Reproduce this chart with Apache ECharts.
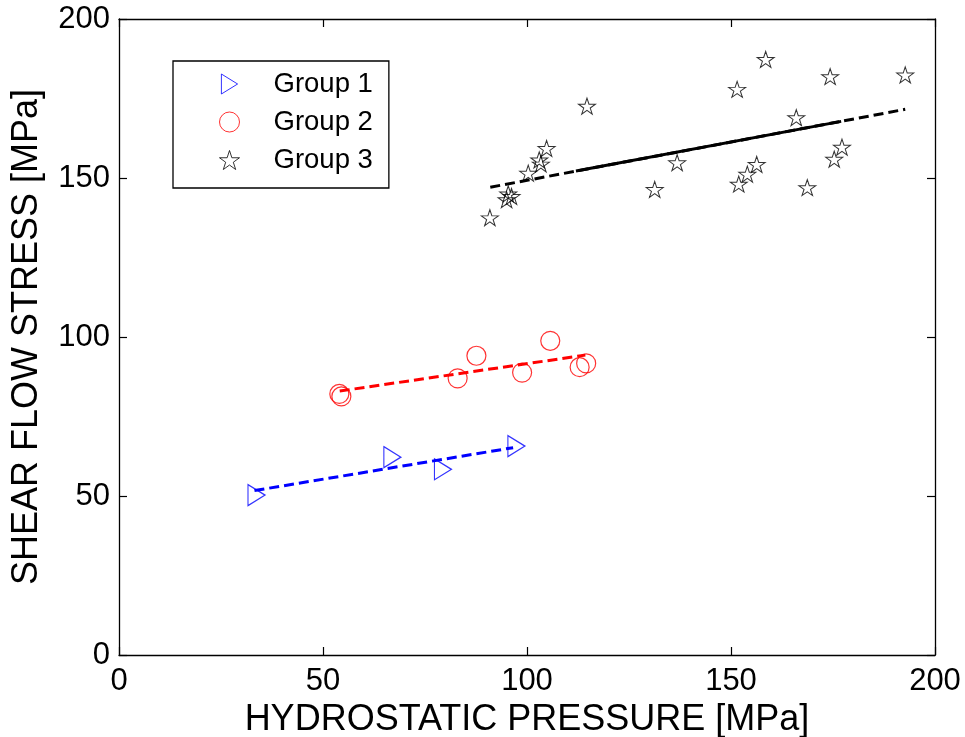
<!DOCTYPE html>
<html>
<head>
<meta charset="utf-8">
<script src="https://cdn.jsdelivr.net/npm/echarts@6/dist/echarts.min.js"></script>
<style>
html,body{margin:0;padding:0;background:#fff;}
#chart{width:965px;height:737px;}
</style>
</head>
<body>
<div id="chart"></div>
<script>
// ---- data ----
const group1X = [33.7, 67.0, 79.4, 97.4];
const group1Y = [50.3, 62.2, 58.4, 65.7];

const group2X = [54.0, 54.5, 83.0, 87.6, 98.8, 105.7, 112.9, 114.5];
const group2Y = [82.1, 81.3, 87.0, 94.1, 88.8, 98.8, 90.5, 91.7];

const group3X = [90.9, 95.0, 95.4, 96.2, 100.3, 103.0, 103.4, 104.8, 114.7, 131.3, 136.8,
                 151.5, 158.5, 151.9, 154.0, 156.3, 166.0, 168.7, 174.3, 175.3, 177.2, 192.7];
const group3Y = [137.5, 143.2, 145.0, 144.2, 151.5, 155.7, 154.4, 159.3, 172.6, 146.4, 154.8,
                 177.9, 187.3, 148.1, 151.2, 154.3, 169.0, 147.0, 181.9, 155.9, 159.7, 182.4];

const fit1X = [33.2, 96.6];  const fit1Y = [51.7, 65.2];
const fit2X = [54.1, 114.3]; const fit2Y = [83.0, 94.3];
const fit3X = [91.0, 192.7]; const fit3Y = [147.1, 171.6];
const fit3bX = [112.0, 177.0]; const fit3bY = [152.2, 167.8];

const xTicks = [0, 50, 100, 150, 200];
const yTicks = [0, 50, 100, 150, 200];
const seriesNames = ['Group 1', 'Group 2', 'Group 3'];

const xTitle = 'HYDROSTATIC PRESSURE [MPa]';
const yTitle = 'SHEAR FLOW STRESS [MPa]';

// ---- helpers ----
const zip = (xs, ys) => xs.map((x, i) => [x, ys[i]]);
const FONT = 'Liberation Sans, Arial, sans-serif';
const triPath = 'path://M0,0 L17,10.5 L0,21 Z';
const starPath = 'path://M50,0 L61.23,34.55 L97.55,34.55 L68.17,55.9 L79.39,90.45 L50,69.1 L20.61,90.45 L31.83,55.9 L2.45,34.55 L38.77,34.55 Z';

const axisCommon = {
  type: 'value', min: xTicks[0], max: xTicks[xTicks.length - 1], interval: 50,
  axisLine: { show: true, onZero: false, lineStyle: { color: '#000', width: 1.3 } },
  axisTick: { show: true, inside: true, length: 8, lineStyle: { color: '#000', width: 1.2 } },
  splitLine: { show: false }
};

const chart = echarts.init(document.getElementById('chart'), null, { renderer: 'canvas' });
chart.setOption({
  backgroundColor: '#fff',
  animation: false,
  grid: { left: 119, right: 30, top: 19, bottom: 82, containLabel: false, outerBoundsMode: 'none' },
  legend: {
    orient: 'vertical', left: 173, top: 61,
    data: seriesNames,
    itemWidth: 20, itemHeight: 20, itemGap: 10,
    padding: [9, 16, 14, 46],
    borderColor: '#000', borderWidth: 1.3, backgroundColor: '#fff',
    itemStyle: { borderWidth: 1 },
    textStyle: { fontFamily: FONT, fontSize: 27.5, color: '#000', padding: [0, 0, 0, 29] }
  },
  xAxis: [
    Object.assign({}, axisCommon, {
      position: 'bottom',
      axisLabel: { show: true, fontFamily: FONT, fontSize: 31, color: '#000', margin: 11 },
      name: xTitle, nameLocation: 'middle', nameGap: 43,
      nameTextStyle: { fontFamily: FONT, fontSize: 36, color: '#000' }
    }),
    Object.assign({}, axisCommon, { position: 'top', axisLabel: { show: false } })
  ],
  yAxis: [
    Object.assign({}, axisCommon, {
      min: yTicks[0], max: yTicks[yTicks.length - 1],
      position: 'left',
      axisLabel: { show: true, fontFamily: FONT, fontSize: 31, color: '#000', margin: 9 },
      name: yTitle, nameLocation: 'middle', nameGap: 74, nameRotate: 90,
      nameTextStyle: { fontFamily: FONT, fontSize: 36, color: '#000' }
    }),
    Object.assign({}, axisCommon, {
      min: yTicks[0], max: yTicks[yTicks.length - 1],
      position: 'right', axisLabel: { show: false }
    })
  ],
  series: [
    {
      name: 'fit1', type: 'line', data: zip(fit1X, fit1Y), symbol: 'none', silent: true, z: 3,
      lineStyle: { color: '#0000ff', width: 3, type: [10, 5] }
    },
    {
      name: 'fit2', type: 'line', data: zip(fit2X, fit2Y), symbol: 'none', silent: true, z: 3,
      lineStyle: { color: '#ff0000', width: 3, type: [10, 5] }
    },
    {
      name: 'fit3', type: 'line', data: zip(fit3X, fit3Y), symbol: 'none', silent: true, z: 3,
      lineStyle: { color: '#000', width: 3, type: [10, 5] }
    },
    {
      name: 'fit3b', type: 'line', data: zip(fit3bX, fit3bY), symbol: 'none', silent: true, z: 3,
      lineStyle: { color: '#000', width: 3, type: 'solid' }
    },
    {
      name: seriesNames[0], type: 'scatter', data: zip(group1X, group1Y),
      symbol: triPath, symbolSize: [17, 21], z: 2,
      itemStyle: { color: 'rgba(0,0,0,0)', borderColor: '#0000ff', borderWidth: 1.2 }
    },
    {
      name: seriesNames[1], type: 'scatter', data: zip(group2X, group2Y),
      symbol: 'circle', symbolSize: 19, z: 2,
      itemStyle: { color: 'rgba(0,0,0,0)', borderColor: '#ff0000', borderWidth: 1.2 }
    },
    {
      name: seriesNames[2], type: 'scatter', data: zip(group3X, group3Y),
      symbol: starPath, symbolSize: [17, 16], z: 2,
      itemStyle: { color: 'rgba(0,0,0,0)', borderColor: '#000', borderWidth: 1 }
    }
  ]
});
</script>
</body>
</html>
